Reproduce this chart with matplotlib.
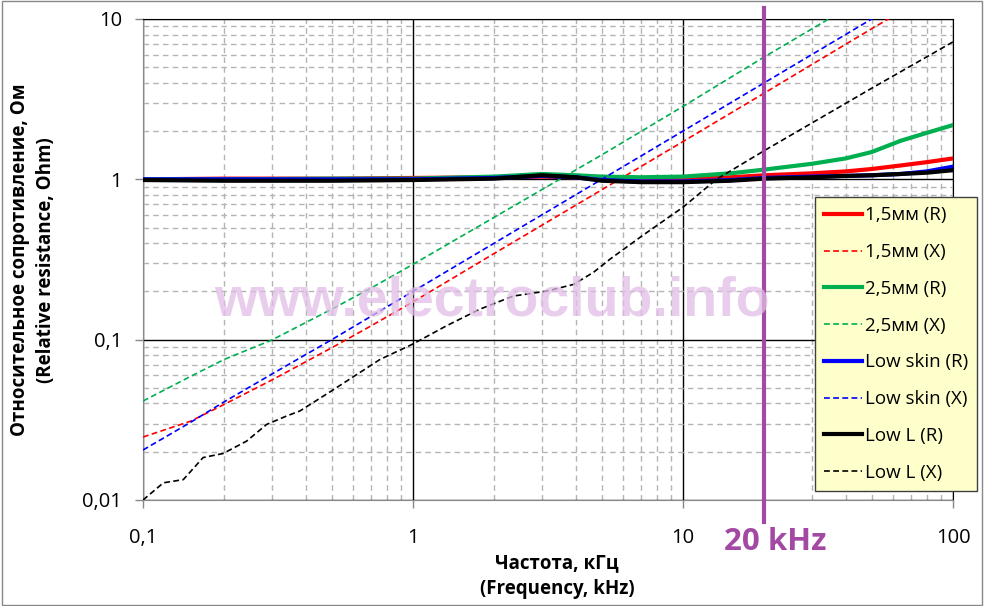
import matplotlib
matplotlib.use('Agg')
import matplotlib.pyplot as plt
from matplotlib.patches import Rectangle
from matplotlib.ticker import FixedLocator, NullFormatter

plt.rcParams['font.family'] = ['Open Sans', 'DejaVu Sans']

# frequency grid for the solid R curves (kHz)
freq_r = [0.1, 0.2, 0.5, 1, 2, 3, 4, 5, 7, 10, 15, 20, 30, 40, 50, 64, 80, 100]
r_15mm = [1.0, 1.01, 1.01, 1.02, 1.03, 1.04, 1.03, 1.02, 1.0, 1.0, 1.03, 1.06, 1.09, 1.12, 1.16, 1.22, 1.28, 1.35]
r_25mm = [1.0, 1.0, 1.01, 1.01, 1.04, 1.08, 1.06, 1.04, 1.03, 1.04, 1.09, 1.15, 1.25, 1.35, 1.48, 1.74, 1.95, 2.18]
r_lowskin = [1.0, 1.0, 1.0, 1.0, 1.02, 1.05, 1.03, 0.99, 0.97, 0.97, 0.99, 1.02, 1.04, 1.05, 1.06, 1.08, 1.12, 1.2]
r_lowl = [0.99, 0.98, 0.98, 0.99, 1.01, 1.06, 1.03, 0.98, 0.96, 0.96, 0.98, 1.01, 1.03, 1.05, 1.06, 1.08, 1.1, 1.14]

# reactance curves (dashed)
freq_x = [0.1, 0.15, 0.2, 0.3, 0.5, 0.7, 1, 2, 5, 10, 20, 30, 50, 60]
x_15mm = [0.0247, 0.031, 0.0395, 0.056, 0.089, 0.122, 0.172, 0.345, 0.86, 1.72, 3.45, 5.2, 8.7, 10.4]
x_lowskin = [0.0205, 0.0305, 0.041, 0.061, 0.1, 0.14, 0.2, 0.4, 1.0, 2.0, 4.0, 6.0, 10.0, 12.0]
freq_x25 = [0.1, 0.15, 0.2, 0.3, 0.5, 0.7, 1, 2, 5, 10, 20, 35, 40]
x_25mm = [0.0414, 0.059, 0.0753, 0.0995, 0.155, 0.21, 0.295, 0.58, 1.42, 2.85, 5.8, 10.1, 11.5]
freq_xl = [0.1, 0.119, 0.141, 0.167, 0.198, 0.242, 0.287, 0.34, 0.381, 0.5, 0.755, 1, 1.33,
           1.77, 2.35, 3.13, 3.93, 4.66, 5.37, 7, 10, 13.3, 20, 50, 100]
x_lowl = [0.01, 0.0128, 0.0134, 0.0184, 0.0195, 0.0233, 0.0296, 0.0334, 0.0359, 0.048, 0.0753,
          0.094, 0.122, 0.155, 0.187, 0.201, 0.221, 0.263, 0.318, 0.44, 0.67, 1.0, 1.51, 3.7, 7.2]

RED = '#FF0000'
GREEN = '#00B050'
BLUE = '#0000FF'
BLACK = '#000000'
PURPLE = '#A349A4'

fig = plt.figure(figsize=(9.84, 6.06), dpi=100)
ax = fig.add_axes([143 / 984, 1 - 500 / 606, 810 / 984, 481 / 606])

dash = (0, (3.5, 2))
ax.plot(freq_r, r_15mm, color=RED, lw=3, label='1,5мм (R)', zorder=4)
ax.plot(freq_x, x_15mm, color=RED, lw=1.2, ls=dash, label='1,5мм (X)', zorder=4)
ax.plot(freq_r, r_25mm, color=GREEN, lw=3, label='2,5мм (R)', zorder=4)
ax.plot(freq_x25, x_25mm, color=GREEN, lw=1.2, ls=dash, label='2,5мм (X)', zorder=4)
ax.plot(freq_r, r_lowskin, color=BLUE, lw=3, label='Low skin (R)', zorder=4)
ax.plot(freq_x, x_lowskin, color=BLUE, lw=1.2, ls=dash, label='Low skin (X)', zorder=4)
ax.plot(freq_r, r_lowl, color=BLACK, lw=3, label='Low L (R)', zorder=4)
ax.plot(freq_xl, x_lowl, color=BLACK, lw=1.2, ls=dash, label='Low L (X)', zorder=4)

ax.set_xscale('log')
ax.set_yscale('log')
ax.set_xlim(0.1, 100)
ax.set_ylim(0.01, 10)

ax.xaxis.set_major_locator(FixedLocator([0.1, 1, 10, 100]))
ax.yaxis.set_major_locator(FixedLocator([0.01, 0.1, 1, 10]))
ax.set_xticklabels(['0,1', '1', '10', '100'])
ax.set_yticklabels(['0,01', '0,1', '1', '10'])
ax.xaxis.set_minor_formatter(NullFormatter())
ax.yaxis.set_minor_formatter(NullFormatter())

ax.grid(which='major', color='black', lw=1, ls='-', zorder=1)
ax.grid(which='minor', color='#b4b4b4', lw=1, ls=(0, (4, 3)), zorder=1)
ax.set_axisbelow(True)
ax.tick_params(which='major', length=6, width=1, color='#888888', labelsize=14.5)
ax.tick_params(axis='x', which='major', pad=14)
ax.tick_params(axis='y', which='major', pad=9)
ax.tick_params(which='minor', length=0)
for side in ['left', 'bottom']:
    ax.spines[side].set_color('#888888')
for side in ['top', 'right']:
    ax.spines[side].set_color('black')

# watermark
fig.text(492 / 984, 1 - 302 / 606, 'www.electroclub.info', fontsize=40, fontweight='bold',
         family='Liberation Sans', color='#e2bde6', alpha=0.75, ha='center', va='center', zorder=0)

# 20 kHz marker
ax.axvline(20, ymin=-0.046, ymax=1.023, color=PURPLE, lw=3, clip_on=False, zorder=5)
fig.text(775 / 984, 1 - 542 / 606, '20 kHz', fontsize=22.5, fontweight='bold', color=PURPLE,
         ha='center', va='center')

fig.text(557 / 984, 1 - 576 / 606, 'Частота, кГц\n(Frequency, kHz)', fontsize=13.5, fontweight='bold',
         ha='center', va='center', multialignment='center', linespacing=1.35)
fig.text(33 / 984, 1 - 260 / 606, 'Относительное сопротивление, Ом\n(Relative resistance, Ohm)',
         fontsize=13.5, fontweight='bold', rotation=90, ha='center', va='center',
         multialignment='center', linespacing=1.35)

leg = fig.legend(loc='upper left', bbox_to_anchor=(815 / 984, 1 - 197 / 606), fontsize=13.5,
                 frameon=True, fancybox=False, facecolor='#FFFFCC', edgecolor='#404040',
                 framealpha=1, handlelength=2.0, handletextpad=0.15, labelspacing=1.0,
                 borderpad=0.5, borderaxespad=0)
leg.get_frame().set_linewidth(1)

fig.patches.append(Rectangle((0.002, 0.002), 0.996, 0.996, transform=fig.transFigure,
                             fill=False, edgecolor='#888888', lw=1))

fig.savefig('out.png', dpi=100)
